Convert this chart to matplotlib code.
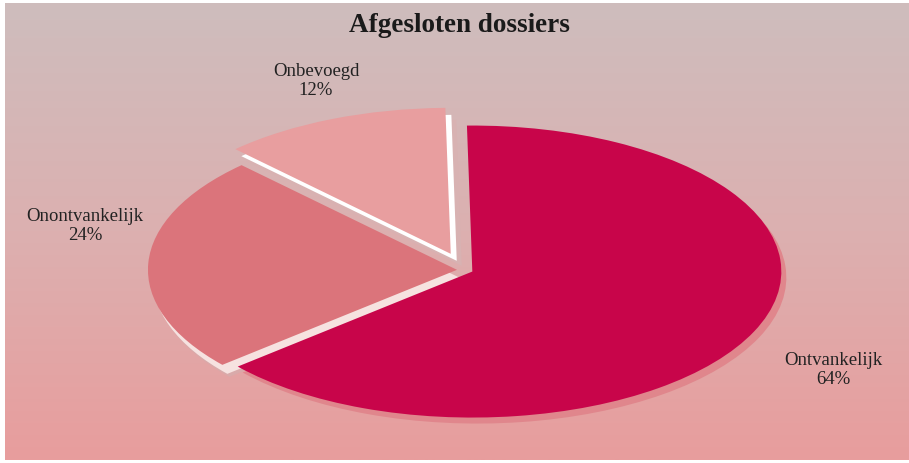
import numpy as np
import matplotlib.pyplot as plt
from matplotlib.colors import LinearSegmentedColormap

# Data
labels = ['Ontvankelijk', 'Onontvankelijk', 'Onbevoegd']
shares = [64, 24, 12]
explode = [0.026, 0.026, 0.12]

slice_colors = ['#c8054a', '#db747b', '#e89e9f']
highlight_colors = [None, '#f6e2e0', '#ffffff']
shadow_colors = ['#e0868c', '#d9aaaa', '#d8b2b2']

W, H = 909, 463
fig = plt.figure(figsize=(W / 100, H / 100), dpi=100)

# gradient background with thin white margin on left/top/bottom
bg = fig.add_axes([5 / W, 3 / H, (W - 5) / W, (H - 6) / H])
cmap = LinearSegmentedColormap.from_list('bg', ['#cebdbd', '#dcb0b0', '#e89d9d'])
bg.imshow(np.linspace(0, 1, 256).reshape(-1, 1), aspect='auto', cmap=cmap,
          extent=[0, 1, 0, 1])
bg.axis('off')

# pie axes: unit circle mapped to a flat ellipse
cx, cy, a, b = 465, 463 - 270, 309, 146
ax = fig.add_axes([0, 0, 1, 1])
ax.patch.set_visible(False)

def px(dx, dy):
    return dx / a, dy / b

layers = [
    ('shadow', shadow_colors, [px(5, -6), px(7, -12), px(11, -12)], 0),
    ('highlight', highlight_colors, [px(0, 0), px(5, -9), px(6, -7)], 1),
    ('slice', slice_colors, [px(0, 0)] * 3, 2),
]
# stacking: Onbevoegd lowest, then Onontvankelijk, Ontvankelijk on top
group_z = [7, 4, 1]

for name, cols, offsets, zo in layers:
    for i in range(len(shares)):
        if cols[i] is None:
            continue
        wedges, _ = ax.pie(shares, explode=explode, startangle=91,
                           counterclock=False, center=offsets[i],
                           colors=['none'] * 3,
                           wedgeprops=dict(linewidth=0))
        for j, w in enumerate(wedges):
            if j == i:
                w.set_facecolor(cols[i])
                w.set_zorder(group_z[i] + zo)
            else:
                w.remove()

ax.set_aspect('auto')
ax.set_xlim(-cx / a, (W - cx) / a)
ax.set_ylim(-cy / b, (H - cy) / b)
ax.axis('off')

font = 'Liberation Serif'
fig.text(459 / W, 1 - 26 / H, 'Afgesloten dossiers', ha='center', va='center',
         fontsize=19.5, fontweight='bold', family=font, color='#1a1a1a')

label_pos = [(833, 370), (85, 226), (316, 81)]
for lab, val, (x, y) in zip(labels, shares, label_pos):
    fig.text(x / W, 1 - y / H, f'{lab}\n{val}%', ha='center', va='center',
             fontsize=13.5, family=font, color='#222222', linespacing=1.1)

fig.savefig('out.png', dpi=100)
